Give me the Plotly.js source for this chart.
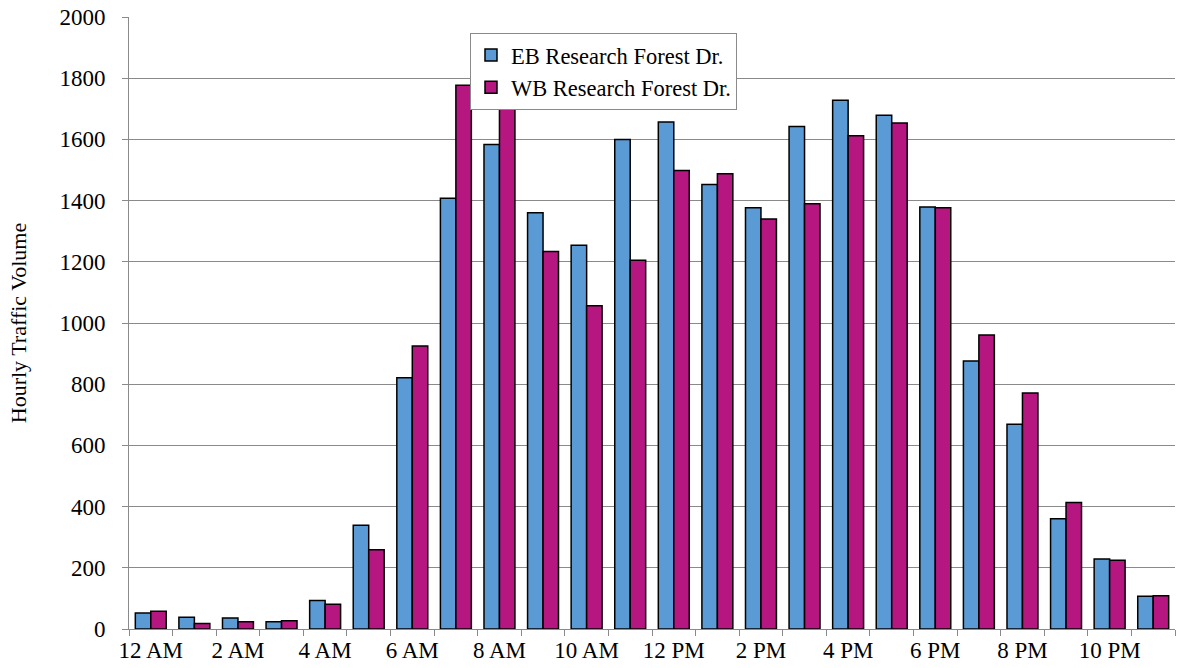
<!DOCTYPE html>
<html>
<head>
<meta charset="utf-8">
<script src="https://cdn.plot.ly/plotly-3.0.1.min.js"></script>
<style>
  html, body { margin: 0; padding: 0; background: #fff; }
  #chart { width: 1188px; height: 668px; }
</style>
</head>
<body>
<div id="chart"></div>
<script>
const hours = ['12 AM','1 AM','2 AM','3 AM','4 AM','5 AM','6 AM','7 AM','8 AM','9 AM','10 AM','11 AM',
               '12 PM','1 PM','2 PM','3 PM','4 PM','5 PM','6 PM','7 PM','8 PM','9 PM','10 PM','11 PM'];
const ebValues = [52, 38, 36, 24, 93, 339, 821, 1408, 1583, 1360, 1254, 1600,
                  1657, 1453, 1377, 1642, 1728, 1679, 1379, 876, 669, 360, 229, 107];
const wbValues = [58, 18, 24, 27, 81, 259, 925, 1777, 1840, 1234, 1056, 1205,
                  1498, 1488, 1340, 1390, 1612, 1654, 1377, 961, 771, 413, 225, 109];
const seriesNames = ['EB Research Forest Dr.', 'WB Research Forest Dr.'];
const yTicks = [0, 200, 400, 600, 800, 1000, 1200, 1400, 1600, 1800, 2000];

const xIdx = hours.map((h, i) => i);
const labelIdx = xIdx.filter(i => i % 2 === 0);
const labelText = labelIdx.map(i => hours[i]);

const FONT = "'Liberation Serif', 'Times New Roman', serif";
const GRID = '#8a8a8a';

const traces = [
  {
    type: 'bar', name: seriesNames[0], x: xIdx, y: ebValues,
    marker: { color: '#5b9bd5', line: { color: '#000000', width: 1.5 } },
    hoverinfo: 'x+y'
  },
  {
    type: 'bar', name: seriesNames[1], x: xIdx, y: wbValues,
    marker: { color: '#b51680', line: { color: '#000000', width: 1.5 } },
    hoverinfo: 'x+y'
  }
];

const layout = {
  width: 1188, height: 668,
  margin: { l: 129, r: 13, t: 17, b: 39 },
  paper_bgcolor: '#ffffff', plot_bgcolor: '#ffffff',
  font: { family: FONT, size: 23, color: '#000000' },
  barmode: 'group',
  bargap: 0.29,
  bargroupgap: 0,
  showlegend: true,
  legend: {
    x: 0.326, y: 0.974, xanchor: 'left', yanchor: 'top',
    bgcolor: '#ffffff', bordercolor: GRID, borderwidth: 1,
    font: { family: FONT, size: 22.5, color: '#000000' },
    traceorder: 'normal', tracegroupgap: 0, itemwidth: 30
  },
  xaxis: {
    type: 'linear', range: [-0.5, 23.5],
    tickvals: labelIdx, ticktext: labelText,
    ticks: '', showgrid: false, zeroline: false,
    showline: true, linecolor: GRID, linewidth: 1,
    tickfont: { family: FONT, size: 23, color: '#000000' },
    minor: { tick0: 0.5, dtick: 1, ticks: 'outside', ticklen: 6, tickcolor: GRID, tickwidth: 1, showgrid: false },
    automargin: false, fixedrange: true
  },
  yaxis: {
    range: [0, 2000], tickvals: yTicks,
    ticks: 'outside', ticklen: 6, tickcolor: GRID, tickwidth: 1,
    showgrid: true, gridcolor: GRID, gridwidth: 1,
    zeroline: false, showline: true, linecolor: GRID, linewidth: 1,
    tickfont: { family: FONT, size: 23, color: '#000000' },
    ticklabelstandoff: 12,
    title: { text: 'Hourly Traffic Volume', font: { family: FONT, size: 22, color: '#000000' }, standoff: 26 },
    automargin: false, fixedrange: true
  }
};

Plotly.newPlot('chart', traces, layout, { displayModeBar: false, staticPlot: true });
</script>
</body>
</html>
